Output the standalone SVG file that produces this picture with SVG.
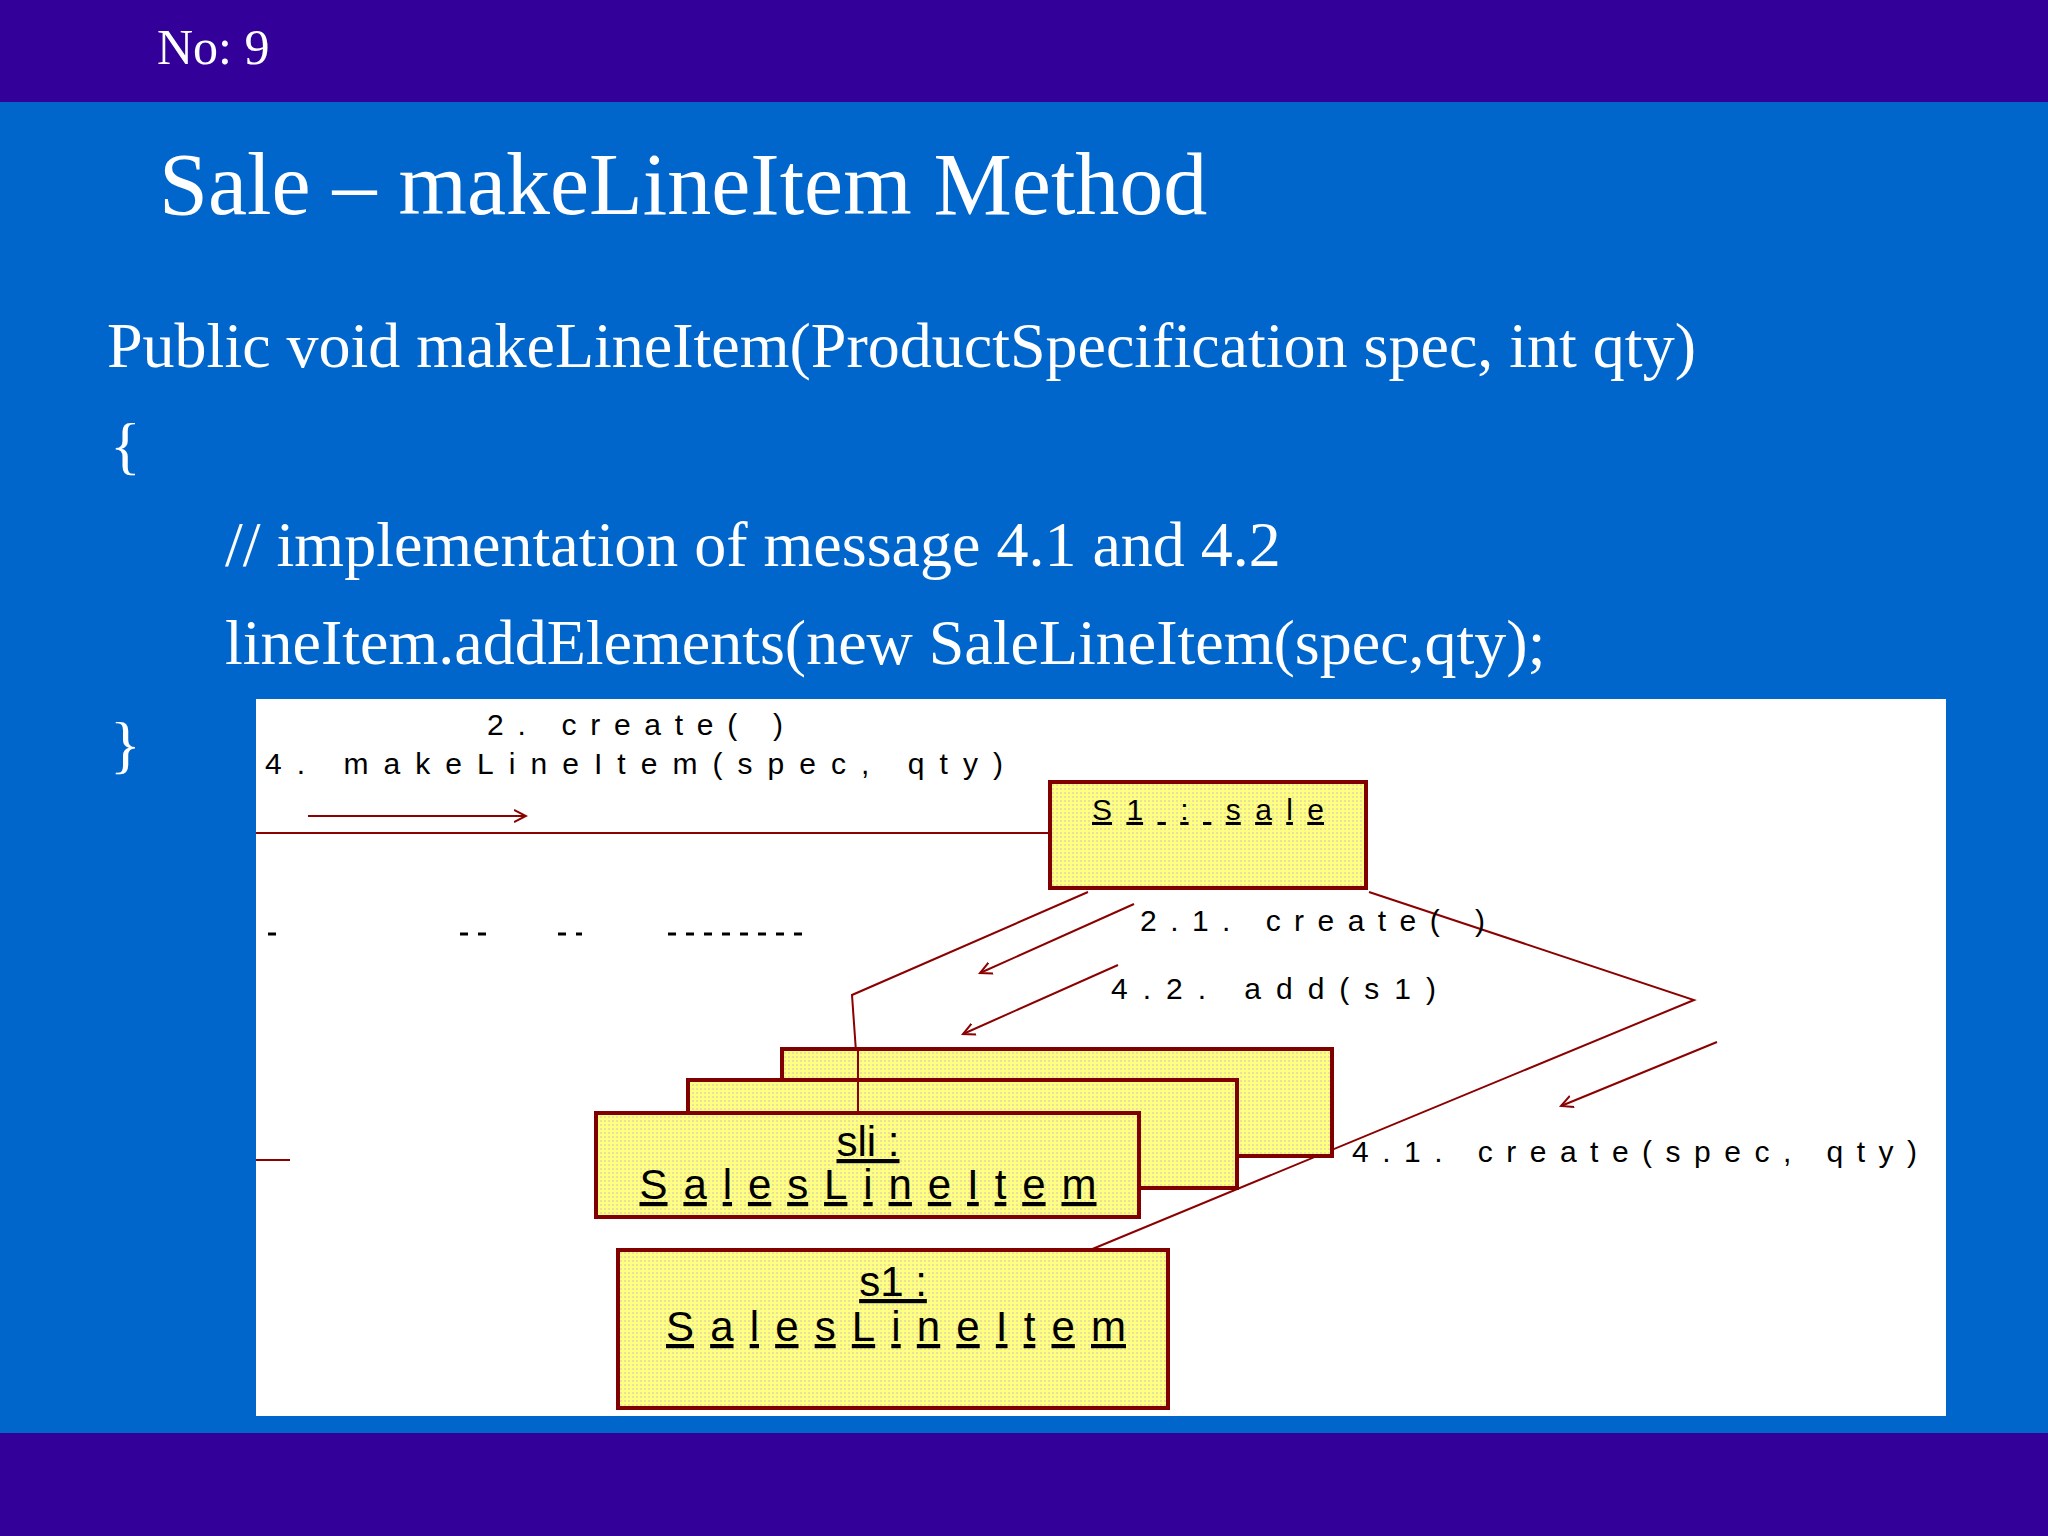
<svg xmlns="http://www.w3.org/2000/svg" width="2048" height="1536" viewBox="0 0 2048 1536">
<defs>
<pattern id="dots" width="4" height="4" patternUnits="userSpaceOnUse"><rect width="4" height="4" fill="#ffff80"/><rect width="2" height="2" fill="#e8e0a0"/></pattern>
<marker id="open" markerWidth="14" markerHeight="14" refX="12" refY="7" orient="auto" markerUnits="userSpaceOnUse" viewBox="0 0 14 14"><path d="M0,1 L12,7 L0,13" fill="none" stroke="#8b0000" stroke-width="2"/></marker>
</defs>
<style>
.slide{font-family:"Liberation Serif","Times New Roman",serif;fill:#fff}
.box{fill:url(#dots);stroke:#800000;stroke-width:4}
.ln{fill:none;stroke:#8b0000;stroke-width:2}
.lbl{font-family:"Liberation Sans",Arial,sans-serif;font-size:30px;fill:#000}
.nm{font-family:"Liberation Sans",Arial,sans-serif;font-size:42px;fill:#000;text-decoration:underline;text-anchor:middle}
</style>
<rect width="2048" height="1536" fill="#0066cc"/>
<rect width="2048" height="102" fill="#330099"/>
<rect y="1433" width="2048" height="103" fill="#330099"/>
<text class="slide" x="157" y="64" font-size="50">No: 9</text>
<text class="slide" x="159" y="214" font-size="88">Sale – makeLineItem Method</text>
<text class="slide" x="107" y="367" font-size="64">Public void makeLineItem(ProductSpecification spec, int qty)</text>
<text class="slide" x="110" y="467" font-size="64">{</text>
<text class="slide" x="225" y="566" font-size="64">// implementation of message 4.1 and 4.2</text>
<text class="slide" x="225" y="664" font-size="64">lineItem.addElements(new SaleLineItem(spec,qty);</text>
<text class="slide" x="110" y="766" font-size="64">}</text>
<rect x="256" y="699" width="1690" height="717" fill="#fff"/>
<g id="connectors">
<line class="ln" x1="256" y1="833" x2="1050" y2="833" stroke-width="3"/>
<line class="ln" x1="308" y1="816" x2="526" y2="816" marker-end="url(#open)"/>
<polyline class="ln" points="1088,892 852,995 858,1080"/>
<line class="ln" x1="1134" y1="904" x2="980" y2="973" marker-end="url(#open)"/>
<line class="ln" x1="1118" y1="965" x2="963" y2="1034" marker-end="url(#open)"/>
<polyline class="ln" points="1369,892 1694,1000 1090,1250"/>
<line class="ln" x1="1717" y1="1042" x2="1561" y2="1106" marker-end="url(#open)"/>
<line class="ln" x1="256" y1="1160" x2="290" y2="1160"/>
<path d="M268,934h14M460,934h30M558,934h24M668,934h138" stroke="#000" stroke-width="3" stroke-dasharray="8 10"/>
</g>
<text class="lbl" x="487" y="735" textLength="296">2. create( )</text>
<text class="lbl" x="265" y="774" textLength="738">4. makeLineItem(spec, qty)</text>
<text class="lbl" x="1140" y="931" textLength="345">2.1. create( )</text>
<text class="lbl" x="1111" y="999" textLength="325">4.2. add(s1)</text>
<text class="lbl" x="1352" y="1162" textLength="565">4.1. create(spec, qty)</text>
<g id="sale"><rect class="box" x="1050" y="782" width="316" height="106"/><text class="lbl" x="1092" y="820" textLength="232" text-decoration="underline">S1 : sale</text></g>
<g id="sli">
<rect class="box" x="782" y="1049" width="550" height="107"/>
<rect class="box" x="688" y="1080" width="549" height="108"/>
<line class="ln" x1="858" y1="1049" x2="858" y2="1113" stroke-width="3"/>
<rect class="box" x="596" y="1113" width="543" height="104"/>
<text class="nm" x="868" y="1156">sli :</text>
<text class="nm" x="868" y="1199" textLength="457">SalesLineItem</text>
</g>
<g id="s1"><rect class="box" x="618" y="1250" width="550" height="158"/>
<text class="nm" x="893" y="1296">s1 :</text>
<text class="nm" x="896" y="1341" textLength="460">SalesLineItem</text></g>
</svg>
